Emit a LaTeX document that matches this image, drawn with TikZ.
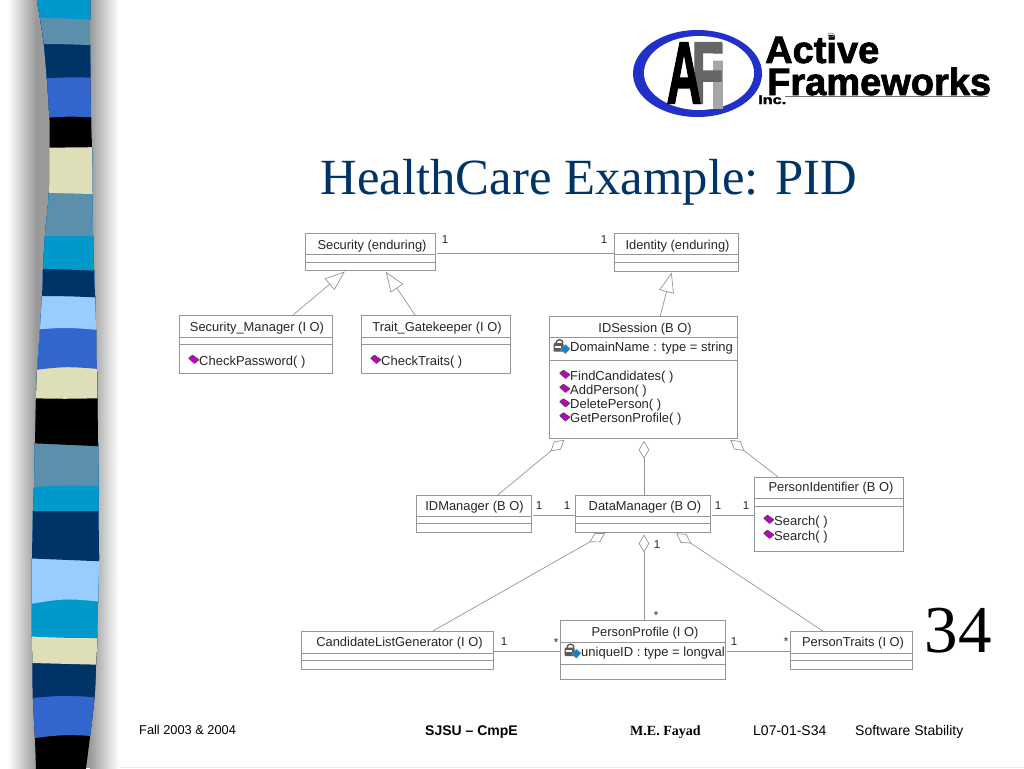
\documentclass[tikz,border=0pt]{standalone}
\usepackage{
    fontspec,
    tikz
}
\usetikzlibrary{arrows.meta}
\setmainfont{Liberation Sans}
\newfontfamily\serifface{Liberation Serif}
\newfontfamily\logoface[FakeBold=2]{Liberation Sans}
\definecolor{slidetitle}{HTML}{003366}
\definecolor{umlline}{HTML}{969696}
\definecolor{barcyan}{HTML}{0099CC}
\definecolor{barsteel}{HTML}{5B8FAB}
\definecolor{barnavy}{HTML}{003366}
\definecolor{barroyal}{HTML}{3366CC}
\definecolor{barcream}{HTML}{DEDEB8}
\definecolor{barsky}{HTML}{99CCFF}
\definecolor{barshadow}{HTML}{9A9A9A}
\definecolor{logoblue}{HTML}{2030C8}
\definecolor{opmagenta}{HTML}{C000C0}
\tikzset{
    classbox/.style={draw=umlline, line width=0.8pt, inner sep=0pt, outer sep=0pt},
    compart/.style={draw=umlline, line width=0.8pt},
    classtext/.style={anchor=base, inner sep=0pt, font=\fontsize{12.9}{14}\selectfont, text=black!85},
    membertext/.style={anchor=base west, inner sep=0pt, font=\fontsize{13}{14}\selectfont, text=black!85},
    multtext/.style={anchor=base, inner sep=0pt, font=\fontsize{11.5}{13}\selectfont, text=black!85},
    footertext/.style={anchor=base west, inner sep=0pt, font=\fontsize{14}{16}\selectfont},
    assocline/.style={draw=umlline, line width=1pt},
    inheritline/.style={draw=umlline, line width=0.7pt, shorten >=1.5pt, -{Triangle[open, length=20pt, width=15pt, fill=white]}},
    aggrline/.style={draw=umlline, line width=0.7pt, shorten >=2.5pt, -{Diamond[open, length=18pt, width=10.5pt, fill=white]}},
    opicon/.pic={
        \draw[fill=opmagenta, draw=black!70, line width=0.6pt, rounded corners=0.6pt] (-5.5,-1.5) -- (-1.5,-4.5) -- (5,0) -- (0.5,4) -- cycle;
    },
    attricon/.pic={
        \draw[black!70, line width=1.3pt] (-6,-4) arc (180:360:3.5);
        \fill[black!65, rounded corners=1pt] (-8.5,-4) rectangle (1.5,4.5);
        \fill[white] (-7,-1.5) rectangle (-1,0.5);
        \draw[fill=cyan!65!blue, draw=black!45, line width=0.4pt] (-1.5,2.5) -- (3.5,-2.5) -- (8,1.5) -- (3.5,6.5) -- cycle;
    }
}
\begin{document}
\begin{tikzpicture}[x=1pt, y=-1pt]
\useasboundingbox (0,0) rectangle (1024,768);
\fill[white] (0,0) rectangle (1024,768);
\fill[barshadow] (36,0) rectangle (90,768);
\shade[left color=white, right color=barshadow] (8,0) rectangle (36,768);
\shade[left color=barshadow, right color=white] (90,0) rectangle (119,768);
\draw[black!8, line width=1pt] (119,767.5) -- (1024,767.5);
\begin{scope}
\clip plot[smooth] coordinates {(35,-20) (37,0) (40,18) (44,45) (47,80) (49.5,120) (49.5,148) (49,192) (45,236) (43,270) (42,296) (40,330) (37,372) (36,400) (35,443) (34,488) (33,510) (32,558) (32,605) (32,638) (32.5,663) (33,700) (35,740) (36,768) (37,790) (82,790) (86,768) (90,737) (94.5,698) (96,665) (97.5,637) (98,603) (99,560) (98.5,510) (98.5,488) (98,443) (97.5,399) (97,372) (96,330) (95,296) (94,270) (93,236) (92.5,192) (92,148) (91,118) (90.5,80) (90,45) (90,18) (90,0) (90,-20)};
\foreach \barcol/\yl/\ym/\yr in {
    black/790/790/790, barroyal/740/734/737.3, barnavy/699/695/698.3,
    barcream/662.7/664/665, barcyan/636/638/638, barsky/605.7/598/602.7,
    barnavy/558/559/561.7, barcyan/511/511/511, barsteel/488/485/486.7,
    black/442.7/444/446.7, barcream/398/399/398, barroyal/372/366/370,
    barsky/331/327/331, barnavy/296/296/298, barcyan/268/269/271,
    barsteel/236/236/236, barcream/192/193/194.5, black/148/148/147,
    barroyal/120/116/118, barnavy/80/77/78, barsteel/44/44/46, barcyan/17/18/20}
    \fill[\barcol] (20,\yl) .. controls (65,\ym) .. (110,\yr) -- (110,-20) -- (20,-20) -- cycle;
\end{scope}

\fill[logoblue] (697.5,73.5) ellipse (64.5 and 43.5);
\fill[white] (699,73) ellipse (55 and 37);
\node[inner sep=0pt, text=black!35] (logoi) at (718,76) {\fontsize{88}{88}\logoface\bfseries\scalebox{.7}[1]{i}};
\node[inner sep=0pt, text=black!60] (logof) at (707.5,73) {\fontsize{88}{88}\logoface\bfseries\scalebox{.6}[1]{F}};
\node[inner sep=0pt, text=black] (logoa) at (684,73) {\fontsize{88}{88}\logoface\bfseries\scalebox{.55}[1]{A}};
\node[anchor=base west, inner sep=0pt] (logoactive) at (765,63) {\fontsize{38}{38}\logoface\bfseries Active};
\node[anchor=base west, inner sep=0pt] (logoframeworks) at (767,95) {\fontsize{38}{38}\logoface\bfseries Frameworks};
\node[anchor=base west, inner sep=0pt] (logoinc) at (758,104) {\fontsize{12.5}{13}\logoface\bfseries\scalebox{1.3}[1]{Inc.}};
\draw[black!55, line width=1.5pt] (785,96.5) -- (988,96.5);
\draw[barsky!70!black, line width=0.7pt] (831,35) ellipse (3 and 2);

\node[anchor=base, inner sep=0pt, text=slidetitle] (slidename) at (589,194) {\fontsize{50.7}{54}\serifface HealthCare Example: PID};
\node[anchor=base, inner sep=0pt] (pagenumber) at (958,652) {\fontsize{67}{72}\serifface 34};

\node[classbox, minimum width=130pt, minimum height=37.5pt] (security) at (370,251.75) {};
\draw[compart] ([yshift=-21pt]security.north west) -- ([yshift=-21pt]security.north east);
\draw[compart] ([yshift=-29pt]security.north west) -- ([yshift=-29pt]security.north east);
\node[classtext] (securityname) at (372,249) {Security (enduring)};

\node[classbox, minimum width=124pt, minimum height=38pt] (identity) at (676,252) {};
\draw[compart] ([yshift=-21.5pt]identity.north west) -- ([yshift=-21.5pt]identity.north east);
\draw[compart] ([yshift=-29pt]identity.north west) -- ([yshift=-29pt]identity.north east);
\node[classtext] (identityname) at (677.5,249) {Identity (enduring)};

\node[classbox, minimum width=153pt, minimum height=58pt] (securitymanager) at (255.5,344) {};
\draw[compart] ([yshift=-22pt]securitymanager.north west) -- ([yshift=-22pt]securitymanager.north east);
\draw[compart] ([yshift=-29pt]securitymanager.north west) -- ([yshift=-29pt]securitymanager.north east);
\node[classtext] (securitymanagername) at (257,331.5) {Security\_Manager (I O)};
\node[membertext] (checkpassword) at (199,365) {CheckPassword( )};
\pic at ([xshift=-5pt,yshift=2pt]checkpassword.west) {opicon};

\node[classbox, minimum width=149.5pt, minimum height=58pt] (traitgatekeeper) at (435.75,344) {};
\draw[compart] ([yshift=-22pt]traitgatekeeper.north west) -- ([yshift=-22pt]traitgatekeeper.north east);
\draw[compart] ([yshift=-29pt]traitgatekeeper.north west) -- ([yshift=-29pt]traitgatekeeper.north east);
\node[classtext] (traitgatekeepername) at (437,331.5) {Trait\_Gatekeeper (I O)};
\node[membertext] (checktraits) at (381,365) {CheckTraits( )};
\pic at ([xshift=-5pt,yshift=2pt]checktraits.west) {opicon};

\node[classbox, minimum width=187.5pt, minimum height=121.5pt] (idsession) at (643.25,377.5) {};
\draw[compart] ([yshift=-20.5pt]idsession.north west) -- ([yshift=-20.5pt]idsession.north east);
\draw[compart] ([yshift=-43.5pt]idsession.north west) -- ([yshift=-43.5pt]idsession.north east);
\node[classtext] (idsessionname) at (645,332.5) {IDSession (B O)};
\node[membertext] (domainname) at (570,351.5) {DomainName : type = string};
\pic at ([xshift=-8pt,yshift=1pt]domainname.west) {attricon};
\node[membertext] (findcandidates) at (570,380) {FindCandidates( )};
\pic at ([xshift=-5pt,yshift=2pt]findcandidates.west) {opicon};
\node[membertext] (addperson) at (570,394) {AddPerson( )};
\pic at ([xshift=-5pt,yshift=2pt]addperson.west) {opicon};
\node[membertext] (deleteperson) at (570,408.5) {DeletePerson( )};
\pic at ([xshift=-5pt,yshift=2pt]deleteperson.west) {opicon};
\node[membertext] (getpersonprofile) at (570,422.5) {GetPersonProfile( )};
\pic at ([xshift=-5pt,yshift=2pt]getpersonprofile.west) {opicon};

\node[classbox, minimum width=115.5pt, minimum height=37pt] (idmanager) at (473.75,513.5) {};
\draw[compart] ([yshift=-21pt]idmanager.north west) -- ([yshift=-21pt]idmanager.north east);
\draw[compart] ([yshift=-28pt]idmanager.north west) -- ([yshift=-28pt]idmanager.north east);
\node[classtext] (idmanagername) at (474.5,510) {IDManager (B O)};

\node[classbox, minimum width=135pt, minimum height=37pt] (datamanager) at (643.25,513.5) {};
\draw[compart] ([yshift=-21pt]datamanager.north west) -- ([yshift=-21pt]datamanager.north east);
\draw[compart] ([yshift=-28pt]datamanager.north west) -- ([yshift=-28pt]datamanager.north east);
\node[classtext] (datamanagername) at (645,510) {DataManager (B O)};

\node[classbox, minimum width=149pt, minimum height=74pt] (personidentifier) at (828.5,514) {};
\draw[compart] ([yshift=-21.5pt]personidentifier.north west) -- ([yshift=-21.5pt]personidentifier.north east);
\draw[compart] ([yshift=-29pt]personidentifier.north west) -- ([yshift=-29pt]personidentifier.north east);
\node[classtext] (personidentifiername) at (831,491.5) {PersonIdentifier (B O)};
\node[membertext] (searchone) at (774,525) {Search( )};
\pic at ([xshift=-5pt,yshift=2pt]searchone.west) {opicon};
\node[membertext] (searchtwo) at (774,540) {Search( )};
\pic at ([xshift=-5pt,yshift=2pt]searchtwo.west) {opicon};

\node[classbox, minimum width=192pt, minimum height=37.5pt] (candidatelist) at (397,650.25) {};
\draw[compart] ([yshift=-21.5pt]candidatelist.north west) -- ([yshift=-21.5pt]candidatelist.north east);
\draw[compart] ([yshift=-28.5pt]candidatelist.north west) -- ([yshift=-28.5pt]candidatelist.north east);
\node[classtext] (candidatelistname) at (399.5,646.5) {CandidateListGenerator (I O)};

\node[classbox, minimum width=165pt, minimum height=59pt] (personprofile) at (642.5,649.5) {};
\draw[compart] ([yshift=-22pt]personprofile.north west) -- ([yshift=-22pt]personprofile.north east);
\draw[compart] ([yshift=-44pt]personprofile.north west) -- ([yshift=-44pt]personprofile.north east);
\node[classtext] (personprofilename) at (645,636) {PersonProfile (I O)};
\node[membertext] (uniqueid) at (581,656) {uniqueID : type = longval};
\pic at ([xshift=-8pt,yshift=1pt]uniqueid.west) {attricon};

\node[classbox, minimum width=122pt, minimum height=38pt] (persontraits) at (851,650) {};
\draw[compart] ([yshift=-22pt]persontraits.north west) -- ([yshift=-22pt]persontraits.north east);
\draw[compart] ([yshift=-29pt]persontraits.north west) -- ([yshift=-29pt]persontraits.north east);
\node[classtext] (persontraitsname) at (853,646.5) {PersonTraits (I O)};

\draw[assocline] ([xshift=2pt,yshift=-1.25pt]security.east) -- ([yshift=-1pt]identity.west);
\draw[assocline] ([xshift=1.5pt,yshift=-1.5pt]idmanager.east) -- ([yshift=-1.5pt]datamanager.west);
\draw[assocline] ([xshift=1.5pt,yshift=-1.5pt]datamanager.east) -- ([yshift=-1pt]personidentifier.west);
\draw[assocline] ([yshift=-0.75pt]candidatelist.east) -- ([yshift=-1.5pt]personprofile.west);
\draw[assocline] ([xshift=1.5pt,yshift=-1.5pt]personprofile.east) -- ([yshift=-1pt]persontraits.west);

\draw[inheritline] ([xshift=37.5pt]securitymanager.north) -- ([xshift=-24pt]security.south);
\draw[inheritline] ([xshift=-20.75pt]traitgatekeeper.north) -- ([xshift=15pt]security.south);
\draw[inheritline] ([xshift=16.75pt]idsession.north) -- ([xshift=-4pt]identity.south);

\draw[aggrline] ([xshift=24pt]idmanager.north) -- ([xshift=-77pt]idsession.south);
\draw[aggrline] ([xshift=0.75pt]datamanager.north) -- ([xshift=0.75pt]idsession.south);
\draw[aggrline] ([xshift=-50.5pt]personidentifier.north) -- ([xshift=85pt]idsession.south);
\draw[aggrline] ([xshift=35pt]candidatelist.north) -- ([xshift=-36pt]datamanager.south);
\draw[aggrline] ([xshift=1.5pt]personprofile.north) -- ([xshift=0.75pt]datamanager.south);
\draw[aggrline] ([xshift=-28.3pt]persontraits.north) -- ([xshift=30.8pt]datamanager.south);

\node[multtext] (multa) at (445,243) {1};
\node[multtext] (multb) at (604,243) {1};
\node[multtext] (multc) at (539,509.5) {1};
\node[multtext] (multd) at (567,509.5) {1};
\node[multtext] (multe) at (718,509.5) {1};
\node[multtext] (multf) at (746,509.5) {1};
\node[multtext] (multg) at (657,548.5) {1};
\node[multtext] (multh) at (656,619.5) {*};
\node[multtext] (multi) at (504,645.5) {1};
\node[multtext] (multj) at (556,646.5) {*};
\node[multtext] (multk) at (734,645.5) {1};
\node[multtext] (multl) at (786,645.5) {*};

\node[footertext, font=\fontsize{12.8}{14}\selectfont] (footerterm) at (139,734) {Fall 2003 \& 2004};
\node[footertext, font=\fontsize{14}{16}\selectfont\bfseries] (footerschool) at (425,735) {SJSU -- CmpE};
\node[footertext, font=\fontsize{14}{16}\serifface\bfseries] (footerauthor) at (630,735) {M.E. Fayad};
\node[footertext] (footercode) at (753,735) {L07-01-S34};
\node[footertext] (footertopic) at (855,735) {Software Stability};
\end{tikzpicture}
\end{document}
